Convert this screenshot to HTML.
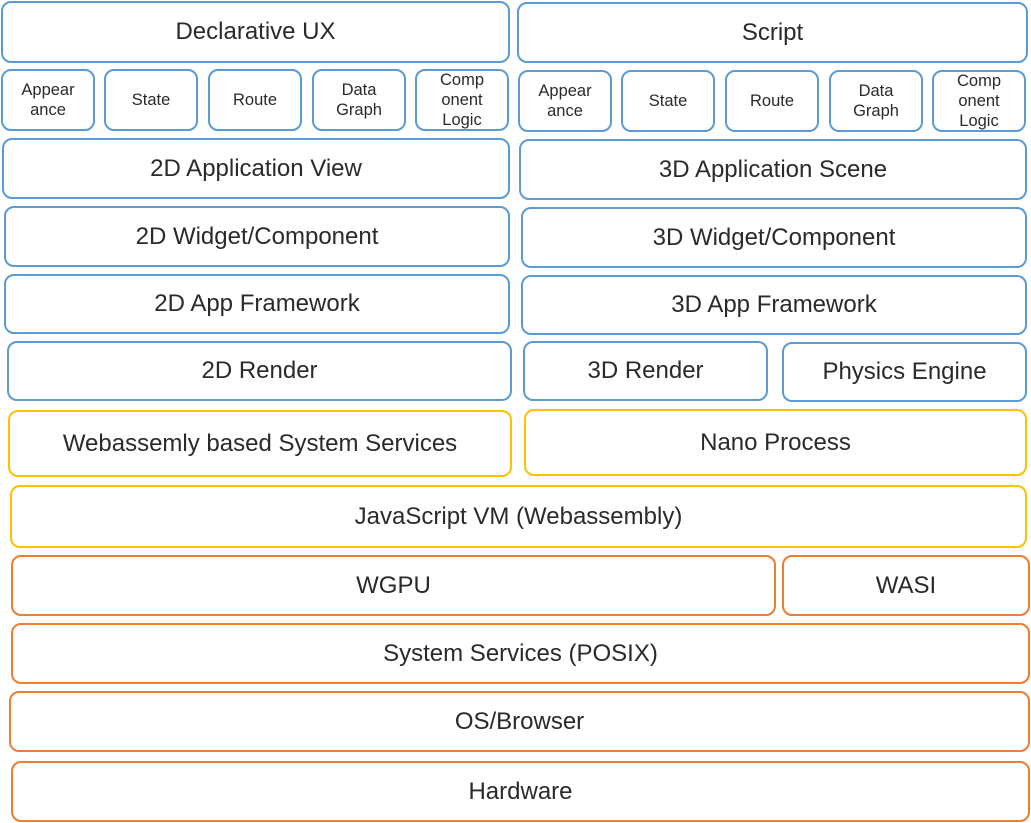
<!DOCTYPE html>
<html><head><meta charset="utf-8"><style>
body{margin:0;width:1031px;height:823px;background:#fff;position:relative;overflow:hidden;font-family:"Liberation Sans",sans-serif;color:#2a2a2a}
.b{position:absolute;box-sizing:border-box;border:2px solid #5b9bd5;border-radius:10px;display:flex;align-items:center;justify-content:center;text-align:center;font-size:24px;background:#fff}
.s{font-size:16.5px;line-height:20px}
.y{border-color:#ffc000}.o{border-color:#ed7d31}
</style></head><body>
<div class="b" style="left:1px;top:1px;width:509px;height:62px">Declarative UX</div>
<div class="b" style="left:517px;top:2px;width:511px;height:61px">Script</div>
<div class="b s" style="left:1px;top:69px;width:94px;height:62px">Appear<br>ance</div>
<div class="b s" style="left:104px;top:69px;width:94px;height:62px">State</div>
<div class="b s" style="left:208px;top:69px;width:94px;height:62px">Route</div>
<div class="b s" style="left:312px;top:69px;width:94px;height:62px">Data<br>Graph</div>
<div class="b s" style="left:415px;top:69px;width:94px;height:62px">Comp<br>onent<br>Logic</div>
<div class="b s" style="left:518px;top:70px;width:94px;height:62px">Appear<br>ance</div>
<div class="b s" style="left:621px;top:70px;width:94px;height:62px">State</div>
<div class="b s" style="left:725px;top:70px;width:94px;height:62px">Route</div>
<div class="b s" style="left:829px;top:70px;width:94px;height:62px">Data<br>Graph</div>
<div class="b s" style="left:932px;top:70px;width:94px;height:62px">Comp<br>onent<br>Logic</div>
<div class="b" style="left:2px;top:138px;width:508px;height:61px">2D Application View</div>
<div class="b" style="left:519px;top:139px;width:508px;height:61px">3D Application Scene</div>
<div class="b" style="left:4px;top:206px;width:506px;height:61px">2D Widget/Component</div>
<div class="b" style="left:521px;top:207px;width:506px;height:61px">3D Widget/Component</div>
<div class="b" style="left:4px;top:274px;width:506px;height:60px">2D App Framework</div>
<div class="b" style="left:521px;top:275px;width:506px;height:60px">3D App Framework</div>
<div class="b" style="left:7px;top:341px;width:505px;height:60px">2D Render</div>
<div class="b" style="left:523px;top:341px;width:245px;height:60px">3D Render</div>
<div class="b" style="left:782px;top:342px;width:245px;height:60px">Physics Engine</div>
<div class="b y" style="left:8px;top:410px;width:504px;height:67px">Webassemly based System Services</div>
<div class="b y" style="left:524px;top:409px;width:503px;height:67px">Nano Process</div>
<div class="b y" style="left:10px;top:485px;width:1017px;height:63px">JavaScript VM (Webassembly)</div>
<div class="b o" style="left:11px;top:555px;width:765px;height:61px">WGPU</div>
<div class="b o" style="left:782px;top:555px;width:248px;height:61px">WASI</div>
<div class="b o" style="left:11px;top:623px;width:1019px;height:61px">System Services (POSIX)</div>
<div class="b o" style="left:9px;top:691px;width:1021px;height:61px">OS/Browser</div>
<div class="b o" style="left:11px;top:761px;width:1019px;height:61px">Hardware</div>
</body></html>
